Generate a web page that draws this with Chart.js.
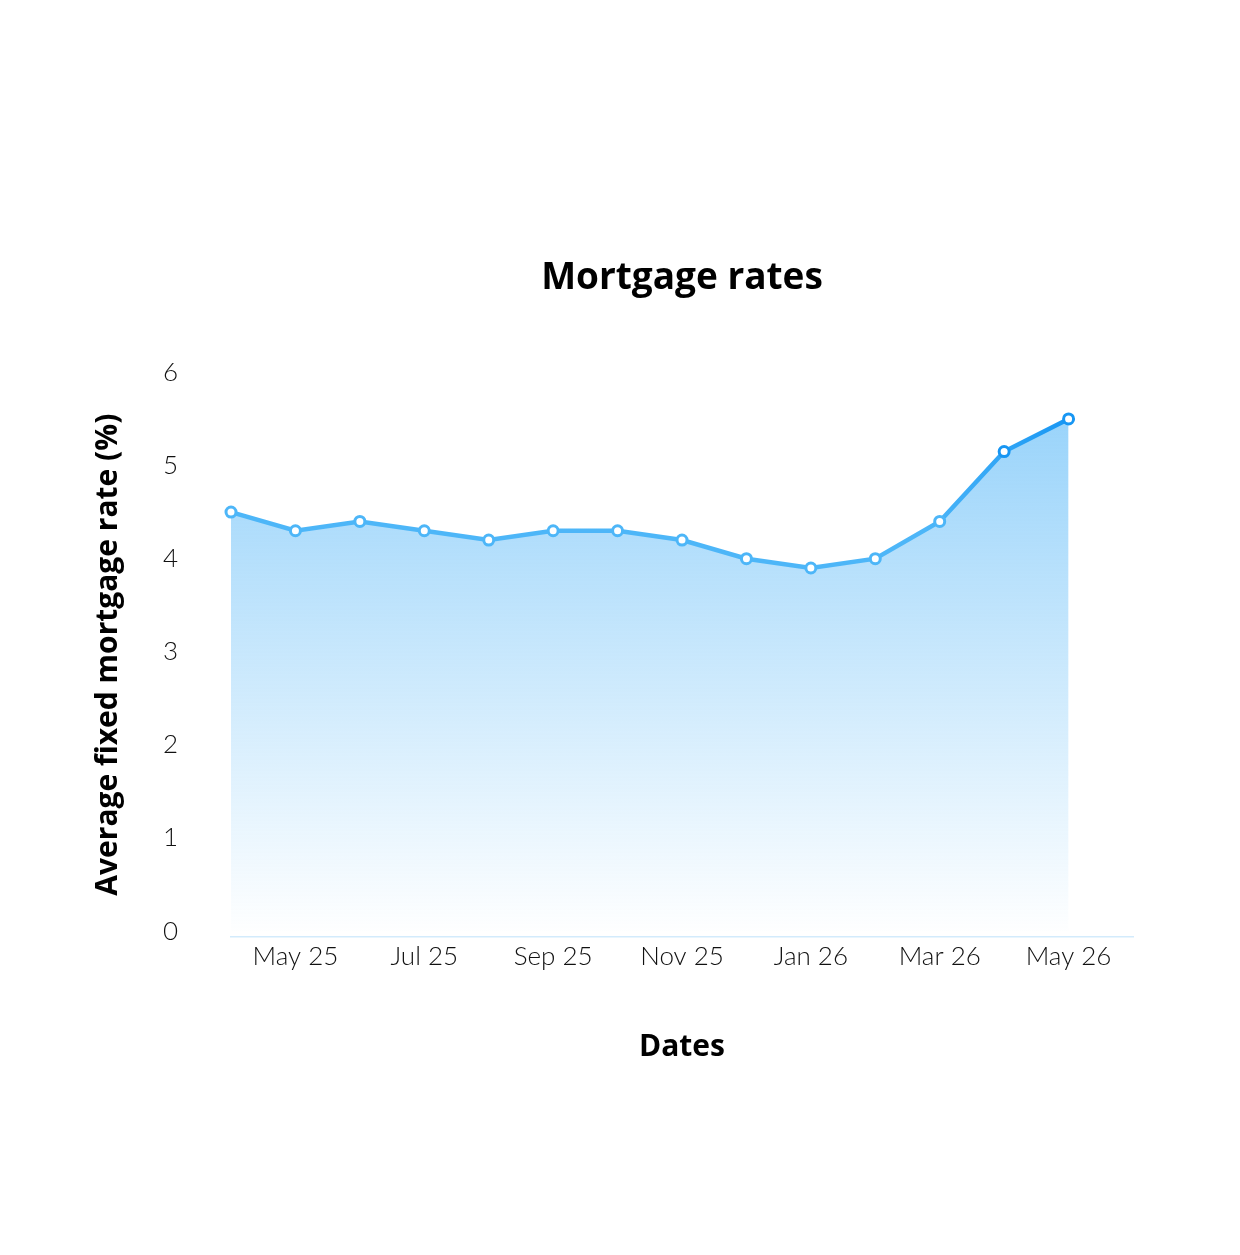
<!DOCTYPE html>
<html>
<head>
<meta charset="utf-8">
<script src="https://cdn.jsdelivr.net/npm/chart.js@4/dist/chart.umd.min.js"></script>
<style>
    html, body { margin: 0; padding: 0; background: #fff; }
    #wrap { width: 1240px; height: 1255px; }
</style>
</head>
<body>
<div id="wrap"><canvas id="myChart"></canvas></div>
<script>
// monthly points, Apr 25 .. May 26
const months = ['Apr 25', 'May 25', 'Jun 25', 'Jul 25', 'Aug 25', 'Sep 25', 'Oct 25',
                'Nov 25', 'Dec 25', 'Jan 26', 'Feb 26', 'Mar 26', 'Apr 26', 'May 26'];
const rates = [4.5, 4.3, 4.4, 4.3, 4.2, 4.3, 4.3, 4.2, 4.0, 3.9, 4.0, 4.4, 5.15, 5.5];
const yTicks = [0, 1, 2, 3, 4, 5, 6];

const tickFont = "Lato, 'Open Sans', sans-serif";
const titleFont = "'Open Sans', Lato, sans-serif";

document.addEventListener("DOMContentLoaded", () => {
    const ctx = document.getElementById('myChart').getContext('2d');

    const points = rates.map((r, i) => ({ x: i, y: r }));

    new Chart(ctx, {
        type: 'line',
        data: {
            datasets: [{
                label: 'Average fixed mortgage rate (%)',
                data: points,
                fill: 'origin',
                clip: false,
                tension: 0,
                borderWidth: 4.5,
                borderColor: (c) => {
                    const area = c.chart.chartArea;
                    if (!area) return '#4db6f8';
                    const g = c.chart.ctx.createLinearGradient(area.left, 0, area.right, 0);
                    g.addColorStop(0, '#4db6f8');
                    g.addColorStop(0.77, '#4db6f8');
                    g.addColorStop(0.93, '#1796f3');
                    g.addColorStop(1, '#1796f3');
                    return g;
                },
                backgroundColor: (c) => {
                    const area = c.chart.chartArea;
                    if (!area) return 'rgba(77,179,247,0.3)';
                    const g = c.chart.ctx.createLinearGradient(0, area.top, 0, area.bottom);
                    g.addColorStop(0, 'rgba(77,179,247,0.62)');
                    g.addColorStop(1, 'rgba(77,179,247,0)');
                    return g;
                },
                pointRadius: 5,
                pointBorderWidth: 3,
                pointBackgroundColor: '#ffffff',
                pointBorderColor: (c) => c.dataIndex >= 12 ? '#1796f3' : '#4db6f8',
                pointHoverRadius: 5
            }]
        },
        options: {
            responsive: true,
            maintainAspectRatio: false,
            animation: false,
            layout: { padding: { top: 256, left: 80, right: 107, bottom: 150 } },
            plugins: {
                legend: { display: false },
                tooltip: { enabled: false },
                title: {
                    display: true,
                    text: 'Mortgage rates',
                    fullSize: false,
                    color: '#000',
                    font: { family: titleFont, size: 37, weight: 'bold' },
                    padding: { top: 0, bottom: 72 }
                }
            },
            scales: {
                x: {
                    type: 'linear',
                    min: 0,
                    max: months.length,
                    grid: { display: false, drawTicks: false },
                    border: { display: true, color: '#d3ebfc', width: 1.5 },
                    afterBuildTicks: (scale) => {
                        scale.ticks = months.map((m, i) => ({ value: i }));
                    },
                    ticks: {
                        autoSkip: false,
                        maxRotation: 0,
                        padding: 4,
                        color: '#111',
                        font: { family: tickFont, size: 26, weight: '300' },
                        callback: (v) => (v % 2 === 1 ? months[v] : '')
                    },
                    title: {
                        display: true,
                        text: 'Dates',
                        color: '#000',
                        font: { family: titleFont, size: 30, weight: 'bold' },
                        padding: { top: 53, bottom: 40 }
                    }
                },
                y: {
                    min: -0.06,
                    max: 6,
                    grid: { display: false, drawTicks: false },
                    border: { display: false },
                    afterBuildTicks: (scale) => {
                        scale.ticks = yTicks.map(v => ({ value: v }));
                    },
                    afterFit: (scale) => { scale.width = 151; },
                    ticks: {
                        padding: 53,
                        color: '#111',
                        font: { family: tickFont, size: 26, weight: '300' }
                    },
                    title: {
                        display: true,
                        text: 'Average fixed mortgage rate (%)',
                        color: '#000',
                        font: { family: titleFont, size: 30, weight: 'bold' },
                        padding: { top: 10, bottom: 40 }
                    }
                }
            }
        }
    });
});
</script>
</body>
</html>
